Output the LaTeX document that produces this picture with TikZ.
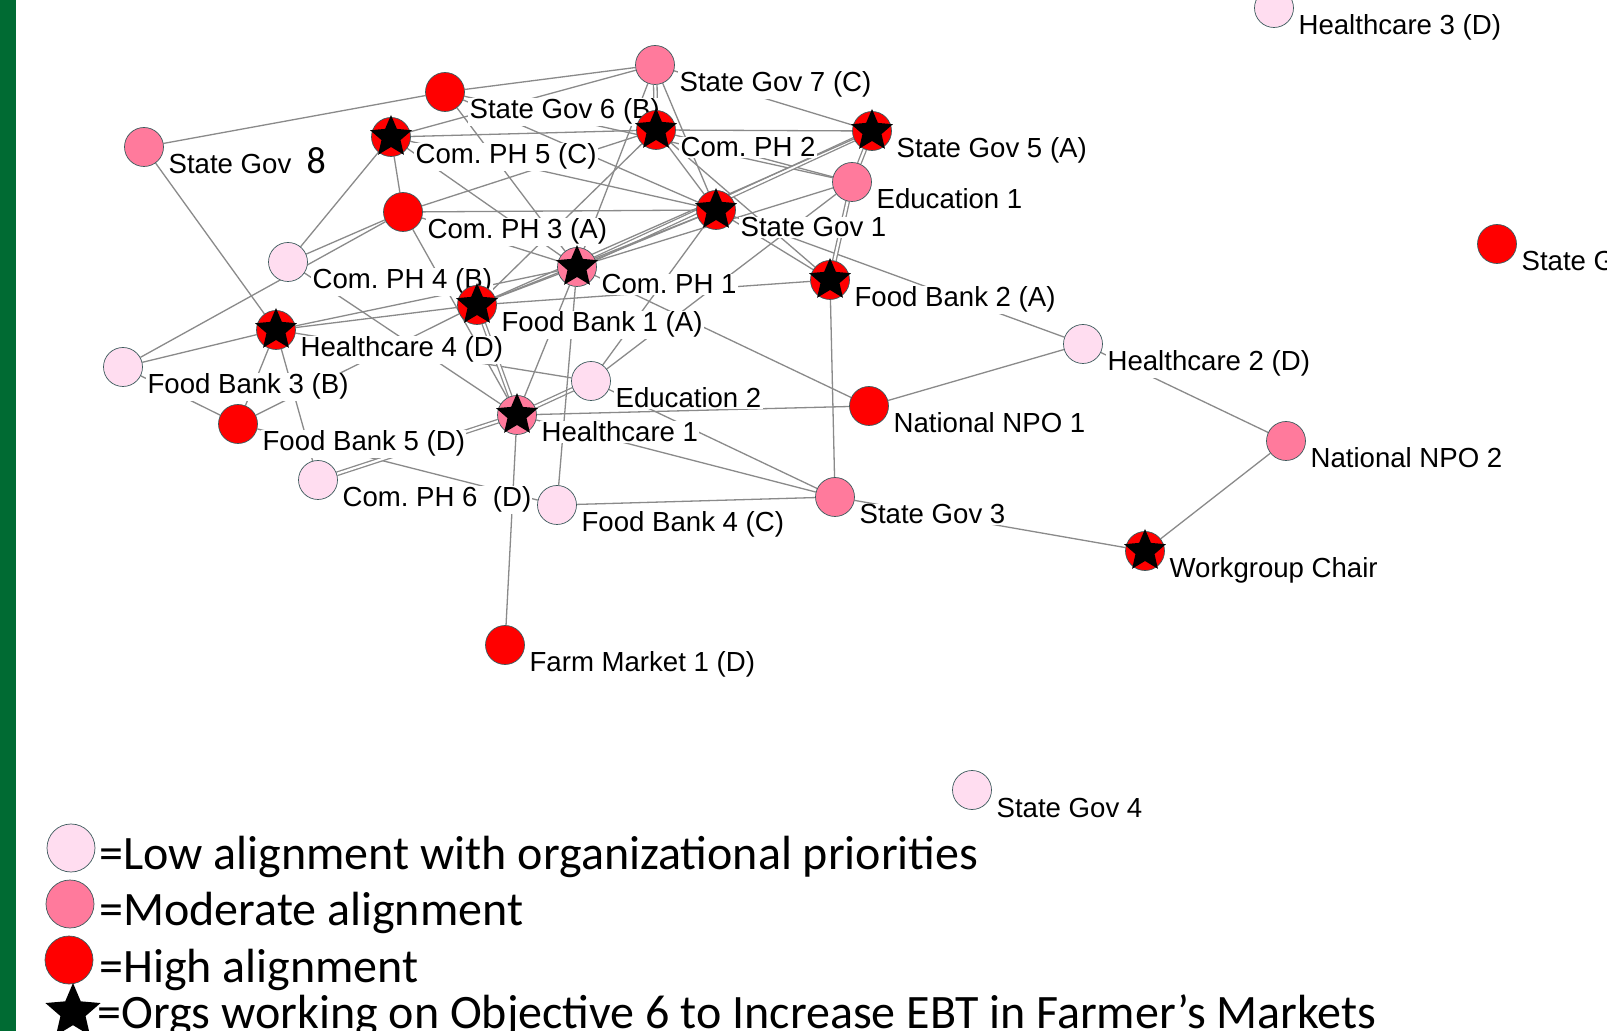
\documentclass[tikz,border=0pt]{standalone}
\usepackage{fontspec}
\setmainfont{Liberation Sans}
\newfontfamily\keyfont{Carlito}
\usetikzlibrary{shapes.geometric}
\definecolor{lowpink}{HTML}{FFDDF0}
\definecolor{midpink}{HTML}{FF7A9C}
\definecolor{hired}{HTML}{FF0000}
\definecolor{rim}{HTML}{3C5A5C}
\definecolor{tiegray}{HTML}{8A8A8A}
\definecolor{slide}{HTML}{006B33}
\pgfdeclarelayer{paper}
\pgfdeclarelayer{ties}
\pgfdeclarelayer{names}
\pgfsetlayers{paper,ties,names,main}
\frenchspacing

\begin{document}
\begin{tikzpicture}[
  x=0.5pt, y=-0.5pt,
  org/.style={circle,draw=rim,line width=0.35pt,minimum size=19.5pt,inner sep=0pt},
  loworg/.style={org,fill=lowpink},
  midorg/.style={org,fill=midpink},
  highorg/.style={org,fill=hired},
  obj/.style={star,star points=5,star point ratio=2.2,fill=black,minimum size=22pt,inner sep=0pt},
  lbl/.style={anchor=base west,fill=white,inner sep=0.6pt,font=\fontsize{13.8}{16}\selectfont},
  tie/.style={draw=tiegray,line width=0.65pt},
  tie2/.style={tie,double=white,double distance=1.1pt},
  key/.style={anchor=base west,inner sep=0pt,font=\keyfont\fontsize{24}{26}\selectfont},
]
\useasboundingbox (0,0) rectangle (1607,1031);
\begin{pgfonlayer}{paper}
\fill[white] (0,0) rectangle (1607,1031);
\end{pgfonlayer}
\fill[slide] (0,0) rectangle (15.5,1031);

% organisations, coloured by alignment
\node[loworg] (hc3) at (1274,8) {};
\node[midorg] (sgov7) at (655,65) {};
\node[highorg] (sgov6) at (445,92) {};
\node[highorg] (cph2) at (656,130) {};
\node[highorg] (sgov5) at (872,131) {};
\node[highorg] (cph5) at (391,137) {};
\node[midorg] (sgov8) at (144,147) {};
\node[midorg] (edu1) at (852,182) {};
\node[highorg] (cph3) at (403,212) {};
\node[highorg] (sgov1) at (716,210) {};
\node[highorg] (sgov2) at (1497,244) {};
\node[loworg] (cph4) at (288,262) {};
\node[midorg] (cph1) at (577,267) {};
\node[highorg] (fb2) at (830,280) {};
\node[highorg] (fb1) at (477,305) {};
\node[highorg] (hc4) at (276,330) {};
\node[loworg] (hc2) at (1083,344) {};
\node[loworg] (fb3) at (123,367) {};
\node[loworg] (edu2) at (591,381) {};
\node[highorg] (npo1) at (869,406) {};
\node[midorg] (hc1) at (517,415) {};
\node[highorg] (fb5) at (238,424) {};
\node[midorg] (npo2) at (1286,441) {};
\node[loworg] (cph6) at (318,480) {};
\node[midorg] (sgov3) at (835,497) {};
\node[loworg] (fb4) at (557,505) {};
\node[highorg] (chair) at (1145,551) {};
\node[highorg] (farm1) at (505,645) {};
\node[loworg] (sgov4) at (972,790) {};

% objective 6 marks
\node[obj] (cph5-s) at (cph5) {};
\node[obj] (cph2-s) at (cph2) {};
\node[obj] (sgov5-s) at (sgov5) {};
\node[obj] (sgov1-s) at (sgov1) {};
\node[obj] (cph1-s) at (cph1) {};
\node[obj] (fb1-s) at (fb1) {};
\node[obj] (fb2-s) at (fb2) {};
\node[obj] (hc4-s) at (hc4) {};
\node[obj] (hc1-s) at (hc1) {};
\node[obj] (chair-s) at (chair) {};

\begin{pgfonlayer}{names}
\node[lbl] (hc3-t) at ([shift={(23,27)}]hc3.center) {Healthcare 3 (D)};
\node[lbl] (sgov7-t) at ([shift={(23,27)}]sgov7.center) {State Gov 7 (C)};
\node[lbl] (sgov6-t) at ([shift={(23,27)}]sgov6.center) {State Gov 6 (B)};
\node[lbl] (cph2-t) at ([shift={(23,27)}]cph2.center) {Com. PH 2};
\node[lbl] (sgov5-t) at ([shift={(23,27)}]sgov5.center) {State Gov 5 (A)};
\node[lbl] (cph5-t) at ([shift={(23,27)}]cph5.center) {Com. PH 5 (C)};
\node[lbl] (sgov8-t) at ([shift={(23,27)}]sgov8.center) {State Gov\ \ {\keyfont\fontsize{19}{20}\selectfont 8}};
\node[lbl] (edu1-t) at ([shift={(23,27)}]edu1.center) {Education 1};
\node[lbl] (cph3-t) at ([shift={(23,27)}]cph3.center) {Com. PH 3 (A)};
\node[lbl] (sgov1-t) at ([shift={(23,27)}]sgov1.center) {State Gov 1};
\node[lbl] (sgov2-t) at ([shift={(23,27)}]sgov2.center) {State G};
\node[lbl] (cph4-t) at ([shift={(23,27)}]cph4.center) {Com. PH 4 (B)};
\node[lbl] (cph1-t) at ([shift={(23,27)}]cph1.center) {Com. PH 1};
\node[lbl] (fb2-t) at ([shift={(23,27)}]fb2.center) {Food Bank 2 (A)};
\node[lbl] (fb1-t) at ([shift={(23,27)}]fb1.center) {Food Bank 1 (A)};
\node[lbl] (hc4-t) at ([shift={(23,27)}]hc4.center) {Healthcare 4 (D)};
\node[lbl] (hc2-t) at ([shift={(23,27)}]hc2.center) {Healthcare 2 (D)};
\node[lbl] (fb3-t) at ([shift={(23,27)}]fb3.center) {Food Bank 3 (B)};
\node[lbl] (edu2-t) at ([shift={(23,27)}]edu2.center) {Education 2};
\node[lbl] (npo1-t) at ([shift={(23,27)}]npo1.center) {National NPO 1};
\node[lbl] (hc1-t) at ([shift={(23,27)}]hc1.center) {Healthcare 1};
\node[lbl] (fb5-t) at ([shift={(23,27)}]fb5.center) {Food Bank 5 (D)};
\node[lbl] (npo2-t) at ([shift={(23,27)}]npo2.center) {National NPO 2};
\node[lbl] (cph6-t) at ([shift={(23,27)}]cph6.center) {Com. PH 6\ \ (D)};
\node[lbl] (sgov3-t) at ([shift={(23,27)}]sgov3.center) {State Gov 3};
\node[lbl] (fb4-t) at ([shift={(23,27)}]fb4.center) {Food Bank 4 (C)};
\node[lbl] (chair-t) at ([shift={(23,27)}]chair.center) {Workgroup Chair};
\node[lbl] (farm1-t) at ([shift={(23,27)}]farm1.center) {Farm Market 1 (D)};
\node[lbl] (sgov4-t) at ([shift={(23,27)}]sgov4.center) {State Gov 4};
\end{pgfonlayer}

% ties between organisations
\begin{pgfonlayer}{ties}
\draw[tie] (sgov8) -- (sgov6);
\draw[tie] (sgov8) -- (hc4);
\draw[tie] (sgov6) -- (sgov7);
\draw[tie] (sgov6) -- (sgov1);
\draw[tie] (sgov6) -- (cph1);
\draw[tie] (sgov6) -- (edu1);
\draw[tie] (cph5) -- (sgov7);
\draw[tie] (cph5) -- (cph2);
\draw[tie] (cph5) -- (cph3);
\draw[tie] (cph5) -- (cph4);
\draw[tie] (cph5) -- (sgov1);
\draw[tie] (cph5) -- (cph1);
\draw[tie] (cph3) -- (cph2);
\draw[tie] (cph3) -- (sgov1);
\draw[tie] (cph3) -- (cph4);
\draw[tie] (cph3) -- (hc1);
\draw[tie] (cph3) -- (cph1);
\draw[tie] (fb3) -- (cph3);
\draw[tie] (fb3) -- (hc4);
\draw[tie] (fb3) -- (fb5);
\draw[tie] (hc4) -- (fb5);
\draw[tie] (hc4) -- (cph6);
\draw[tie] (hc4) -- (fb1);
\draw[tie] (hc4) -- (cph1);
\draw[tie] (hc4) -- (edu2);
\draw[tie] (fb5) -- (fb1);
\draw[tie] (fb5) -- (fb4);
\draw[tie] (cph4) -- (hc1);
\draw[tie2] (fb1) -- (hc1);
\draw[tie2] (cph6) -- (hc1);
\draw[tie2] (hc1) -- (edu2);
\draw[tie] (hc1) -- (farm1);
\draw[tie] (hc1) -- (npo1);
\draw[tie] (hc1) -- (sgov3);
\draw[tie] (hc1) -- (cph1);
\draw[tie] (edu2) -- (sgov3);
\draw[tie] (edu2) -- (sgov1);
\draw[tie] (edu2) -- (edu1);
\draw[tie] (fb4) -- (sgov3);
\draw[tie] (fb4) -- (cph1);
\draw[tie] (sgov3) -- (fb2);
\draw[tie] (sgov3) -- (chair);
\draw[tie] (npo1) -- (hc2);
\draw[tie] (sgov1) -- (hc2);
\draw[tie] (hc2) -- (npo2);
\draw[tie] (npo2) -- (chair);
\draw[tie] (cph1) -- (npo1);
\draw[tie] (sgov1) -- (fb2);
\draw[tie] (fb1) -- (fb2);
\draw[tie] (cph2) -- (sgov1);
\draw[tie] (cph2) -- (fb2);
\draw[tie] (cph2) -- (edu1);
\draw[tie] (cph2) -- (sgov5);
\draw[tie2] (cph1) -- (sgov5);
\draw[tie] (cph1) -- (sgov1);
\draw[tie] (cph1) -- (edu1);
\draw[tie] (fb1) -- (sgov1);
\draw[tie] (fb1) -- (sgov5);
\draw[tie] (fb1) -- (cph1);
\draw[tie] (fb1) -- (cph2);
\draw[tie] (sgov7) -- (sgov5);
\draw[tie2] (sgov7) -- (cph2);
\draw[tie] (sgov7) -- (sgov1);
\draw[tie] (sgov7) -- (cph1);
\draw[tie2] (sgov5) -- (edu1);
\draw[tie2] (edu1) -- (fb2);
\end{pgfonlayer}

% key
\node[loworg,minimum size=24pt] (key-low) at (71,848) {};
\node[midorg,minimum size=24pt] (key-mid) at (70,904) {};
\node[highorg,minimum size=24pt] (key-high) at (69,960) {};
\node[obj,minimum size=29pt] (key-star) at (73,1012) {};
\node[key] (key-low-t) at (99,869) {=Low alignment with organizational priorities};
\node[key] (key-mid-t) at (99,925) {=Moderate alignment};
\node[key] (key-high-t) at (99,982) {=High alignment};
\node[key] (key-star-t) at (97,1028) {=Orgs working on Objective 6 to Increase EBT in Farmer’s Markets};
\end{tikzpicture}
\end{document}
